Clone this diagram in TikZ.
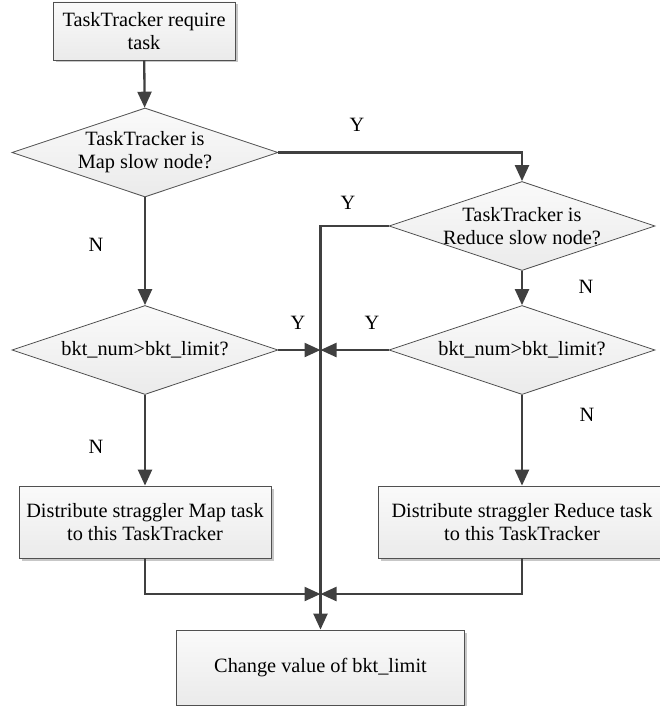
\documentclass[tikz,border=0pt]{standalone}
\usepackage{fontspec}
\setmainfont{Liberation Serif}
\usetikzlibrary{shapes.geometric,arrows.meta,shadows}

\definecolor{ink}{HTML}{404040}
\definecolor{edge}{HTML}{505050}

\tikzset{
  every node/.style={font=\fontsize{20.3}{23}\selectfont, text=black},
  procbox/.style={rectangle, draw=edge, line width=0.8pt,
    top color=gray!4, bottom color=gray!16, inner sep=0pt, align=center,
    drop shadow={shadow xshift=2.5pt, shadow yshift=-2.5pt, fill=black!22, opacity=1}},
  decision/.style={diamond, draw=edge, line width=0.8pt,
    top color=gray!4, bottom color=gray!16, inner sep=0pt,
    minimum width=266pt, minimum height=89pt},
  flow/.style={draw=ink, line width=2.3pt, -{Triangle[length=16pt,width=14pt]}},
  tag/.style={inner sep=0pt}
}

\begin{document}
\begin{tikzpicture}[x=1pt,y=-1pt]
  \useasboundingbox (0,0) rectangle (659,706);

  % process boxes
  \node[procbox, minimum width=182pt, minimum height=58pt] (start) at (144,31)
    {TaskTracker require\\task};
  \node[procbox, minimum width=252pt, minimum height=72pt] (mapbox) at (145,522)
    {Distribute straggler Map task\\to this TaskTracker};
  \node[procbox, minimum width=288pt, minimum height=72pt] (redbox) at (522,522)
    {Distribute straggler Reduce task\\to this TaskTracker};
  \node[procbox, minimum width=288pt, minimum height=75pt] (final) at (320.5,667.5)
    {Change value of bkt\_limit};

  % decisions
  \node[decision, label={[align=center]center:TaskTracker is\\Map slow node?}] (d1) at (145,152.5) {};
  \node[decision, label={[align=center]center:TaskTracker is\\Reduce slow node?}] (d2) at (522,226) {};
  \node[decision, label={center:bkt\_num>bkt\_limit?}] (d3) at (145,350) {};
  \node[decision, label={center:bkt\_num>bkt\_limit?}] (d4) at (522,350) {};

  % junction points on the central trunk
  \coordinate (jmid) at (320.5,350);
  \coordinate (jlow) at (320.5,594);

  % connectors
  \draw[flow] (start) -- (d1);
  \draw[flow] (d1.east) -| (d2.north);
  \draw[flow] (d1.south) -- (d3.north);
  \draw[flow] (d2.south) -- (d4.north);
  \draw[flow] (d2.west) -| (final.north);
  \draw[flow] (d3.east) -- (jmid);
  \draw[flow] (d4.west) -- (jmid);
  \draw[flow] (d3.south) -- (mapbox.north);
  \draw[flow] (d4.south) -- (redbox.north);
  \draw[flow] (mapbox.south) |- (jlow);
  \draw[flow] (redbox.south) |- (jlow);

  % branch labels
  \node[tag] (y1) at (357,125) {Y};
  \node[tag] (y2) at (348,203) {Y};
  \node[tag] (n1) at (96,245) {N};
  \node[tag] (n2) at (586,287) {N};
  \node[tag] (y3) at (298,323) {Y};
  \node[tag] (y4) at (372,323) {Y};
  \node[tag] (n3) at (96,447) {N};
  \node[tag] (n4) at (587,415) {N};
\end{tikzpicture}
\end{document}
